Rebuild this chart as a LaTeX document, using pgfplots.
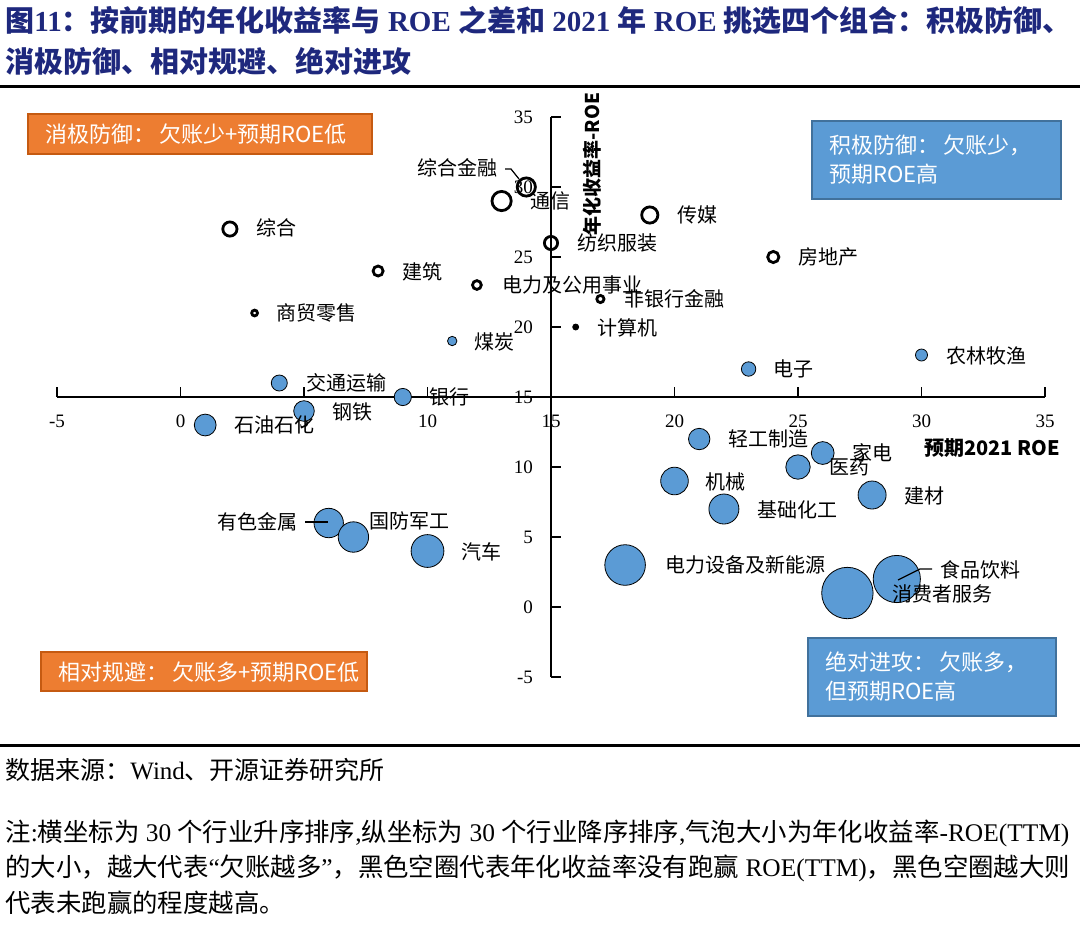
\documentclass[border=0pt]{standalone}
\usepackage{pgfplots}
\pgfplotsset{compat=1.18}
\usepackage{pgfplotstable}
\usepackage{fontspec}
\setmainfont{Liberation Serif}
\newfontfamily\cjk{Noto Sans CJK SC}
\definecolor{bub}{RGB}{91,155,213}
\definecolor{bubdark}{RGB}{65,113,156}
\definecolor{org}{RGB}{237,125,49}
\definecolor{orgdark}{RGB}{197,90,17}
\definecolor{ttl}{RGB}{30,40,125}
\newcommand{\C}[1]{{\cjk #1}}

% x = expected 2021 ROE rank, y = annualised return - ROE rank, r = bubble radius (pt)
\pgfplotstableread{
x  y  r
1  13 5.45
4  16 4.0
5  14 5.15
9  15 4.3
11 19 2.35
23 17 3.6
30 18 3.0
21 12 5.35
26 11 5.7
25 10 6.1
20 9  6.9
28 8  7.0
22 7  7.5
6  6  7.35
7  5  7.6
10 4  8.2
18 3  10.15
27 1  12.85
29 2  11.8
}\bluedata

\pgfplotstableread{
x  y  r
14 30 4.55
13 29 4.8
19 28 4.05
2  27 3.55
15 26 3.3
24 25 2.8
8  24 2.5
12 23 2.2
17 22 1.8
3  21 1.45
}\ringdata

\begin{document}
\begin{tikzpicture}
\useasboundingbox (0,0) rectangle (540pt,-466.5pt);
\begin{axis}[
  at={(28.5pt,-338.5pt)}, anchor=south west,
  scale only axis, width=494pt, height=280pt,
  xmin=-20, xmax=20, ymin=-20, ymax=20,
  axis lines=middle,
  axis line style={-, line width=0.7pt, black},
  xtick={-20,-15,...,20},
  xticklabels={-5,0,5,10,15,20,25,30,35},
  ytick={-20,-15,...,20},
  yticklabels={-5,0,5,10,15,20,25,30,35},
  hide obscured x ticks=false, hide obscured y ticks=false,
  xtick style={yshift=2.5pt},
  ytick style={xshift=2.5pt},
  major tick length=5pt,
  tick style={black, line width=0.7pt},
  ticklabel style={font=\fontsize{9.5}{10}\selectfont},
  xticklabel style={yshift=-3pt},
  yticklabel style={xshift=-3pt},
  /pgf/number format/assume math mode=true,
  clip=false,
]
\addplot[scatter, only marks, mark=*,
  scatter/use mapped color={draw=none, fill=bub},
  visualization depends on={\thisrow{r}\as\rr},
  scatter/@pre marker code/.append style={/tikz/mark size=\rr pt}]
  table[x expr=\thisrow{x}-15, y expr=\thisrow{y}-15] {\bluedata};
\addplot[scatter, only marks, mark=o, line width=1.4pt,
  mark options={line width=1.4pt},
  scatter/use mapped color={draw=black, fill=none},
  visualization depends on={\thisrow{r}\as\rr},
  scatter/@pre marker code/.append style={/tikz/mark size=\rr pt, /tikz/line width=1.4pt}]
  table[x expr=\thisrow{x}-15, y expr=\thisrow{y}-15] {\ringdata};
\addplot[only marks, mark=*, mark size=1.5pt, black]
  table[row sep=\\, x expr=\thisrow{x}-15, y expr=\thisrow{y}-15] {x y\\ 16 20\\};
\end{axis}

\begin{scope}[x=0.5pt,y=-0.5pt]
% title
\node[anchor=west, text=ttl, font=\fontsize{14.5}{16}\selectfont\bfseries, inner sep=0pt] at (5,20)
 {\C{图}11\C{：按前期的年化收益率与} ROE \C{之差和} 2021 \C{年} ROE \C{挑选四个组合：积极防御、}};
\node[anchor=west, text=ttl, font=\fontsize{14.5}{16}\selectfont\bfseries, inner sep=0pt] at (5,61)
 {\C{消极防御、相对规避、绝对进攻}};
\draw[line width=1.5pt] (0,86) -- (1080,86);
\draw[line width=1.5pt] (0,745) -- (1080,745);

% quadrant boxes
\fill[org, draw=orgdark, line width=0.6pt] (28,114) rectangle (372,154);
\node[anchor=west, text=white, font=\cjk\fontsize{11}{13}\selectfont, inner sep=0pt] at (45,134) {消极防御：\,欠账少+预期ROE低};
\fill[bub, draw=bubdark, line width=0.6pt] (812,121) rectangle (1061,199);
\node[anchor=west, text=white, font=\cjk\fontsize{11}{13}\selectfont, inner sep=0pt] at (829,145) {积极防御：\,欠账少，};
\node[anchor=west, text=white, font=\cjk\fontsize{11}{13}\selectfont, inner sep=0pt] at (829,174) {预期ROE高};
\fill[org, draw=orgdark, line width=0.6pt] (41,652) rectangle (367,691);
\node[anchor=west, text=white, font=\cjk\fontsize{11}{13}\selectfont, inner sep=0pt] at (58,672) {相对规避：\,欠账多+预期ROE低};
\fill[bub, draw=bubdark, line width=0.6pt] (808,638) rectangle (1056,716);
\node[anchor=west, text=white, font=\cjk\fontsize{11}{13}\selectfont, inner sep=0pt] at (825,662) {绝对进攻：\,欠账多，};
\node[anchor=west, text=white, font=\cjk\fontsize{11}{13}\selectfont, inner sep=0pt] at (825,691) {但预期ROE高};

% axis titles
\node[rotate=90, font=\cjk\fontsize{9.5}{11}\selectfont\bfseries, inner sep=0pt] at (592,164) {年化收益率-ROE};
\node[font=\cjk\fontsize{10}{12}\selectfont\bfseries, inner sep=0pt] at (992,448) {预期2021 ROE};

% bubble labels
\begin{scope}[every node/.style={font=\cjk\fontsize{10}{12}\selectfont, inner sep=0pt}]
\node at (457,168) {综合金融};
\node at (550,201) {通信};
\node at (697,215) {传媒};
\node at (276,228) {综合};
\node at (617,243) {纺织服装};
\node at (828,257) {房地产};
\node at (422,272) {建筑};
\node at (572,285) {电力及公用事业};
\node at (674,299) {非银行金融};
\node at (316,313) {商贸零售};
\node at (627,328) {计算机};
\node at (494,342) {煤炭};
\node at (986,356) {农林牧渔};
\node at (793,369) {电子};
\node at (346,383) {交通运输};
\node at (449,397) {银行};
\node at (352,412) {钢铁};
\node at (274,425) {石油石化};
\node at (768,439) {轻工制造};
\node at (872,453) {家电};
\node at (849,467) {医药};
\node at (725,482) {机械};
\node at (924,496) {建材};
\node at (797,510) {基础化工};
\node at (257,522) {有色金属};
\node at (409,521) {国防军工};
\node at (481,552) {汽车};
\node at (745,565) {电力设备及新能源};
\node at (980,570) {食品饮料};
\node at (942,594) {消费者服务};
\end{scope}
% leader lines
\draw[line width=0.6pt] (505,169) -- (511,169) -- (519,179);
\draw[line width=0.6pt] (305,522) -- (328,522);
\draw[line width=0.6pt] (932,569) -- (920,569) -- (898,580);

% source and notes
\node[anchor=west, inner sep=0pt, font=\fontsize{12.5}{14}\selectfont] at (5,770)
 {\C{数据来源：}Wind\C{、开源证券研究所}};
\node[anchor=west, inner sep=0pt, font=\fontsize{12.7}{15}\selectfont] at (5,833)
 {\C{注}:\C{横坐标为} 30 \C{个行业升序排序},\C{纵坐标为} 30 \C{个行业降序排序},\C{气泡大小为年化收益率}-ROE(TTM)};
\node[anchor=west, inner sep=0pt, font=\fontsize{12.7}{15}\selectfont] at (5,868)
 {\C{的大小，越大代表}“\C{欠账越多}”\C{，黑色空圈代表年化收益率没有跑赢} ROE(TTM)\C{，黑色空圈越大则}};
\node[anchor=west, inner sep=0pt, font=\fontsize{12.7}{15}\selectfont] at (5,903)
 {\C{代表未跑赢的程度越高。}};
\end{scope}
\end{tikzpicture}
\end{document}
